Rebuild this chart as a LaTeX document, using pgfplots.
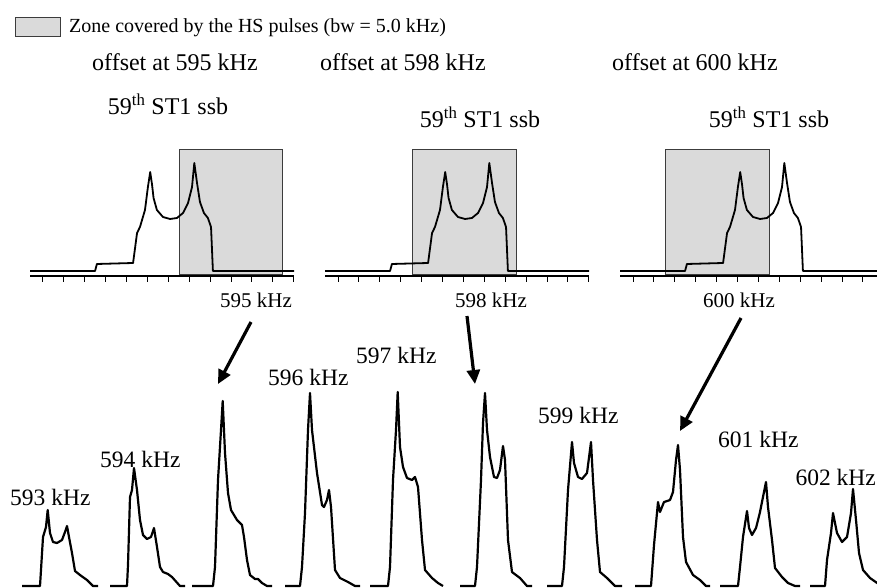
\documentclass[border=0pt]{standalone}
\usepackage{fontspec}
\setmainfont{Liberation Serif}
\usepackage{pgfplots}
\pgfplotsset{compat=1.18}
\usepackage{pgfplotstable}
\usetikzlibrary{arrows.meta}

\definecolor{zonefill}{HTML}{DADADA}
\definecolor{zoneedge}{HTML}{3C3C3C}

% 59th ST1 spinning sideband, simulated line shape (f in kHz from the first tick, h = intensity)
\pgfplotstableread{
f      h
-0.62  5
2.49   5
2.58   12
4.31   13
4.50   43
4.64   49
4.88   66
5.02   89
5.13   104
5.22   91
5.29   78
5.45   66
5.74   59
6.08   57
6.41   58
6.70   63
6.94   73
7.13   89
7.24   113
7.37   93
7.51   74
7.70   63
7.89   58
8.04   49
8.13   5
12.01  5
}\topspec

\pgfplotsset{
  toppanel/.style={
    scale only axis, width=264pt, height=130pt,
    xmin=-0.622, xmax=12.01, ymin=0, ymax=130,
    axis x line*=bottom, axis y line=none, ytick=\empty,
    xtick={0,...,12}, xticklabels={},
    tick align=outside, major tick length=6pt,
    x axis line style={line width=1.4pt, black},
    tick style={line width=1pt, black},
    anchor=south west, clip=false,
  },
  spec/.style={black, line width=2.2pt, line join=round, mark=none},
  simspec/.style={black, line width=1.8pt, line join=round, mark=none},
}

\newcommand\lbl{\fontsize{23.5}{26}\selectfont}
\newcommand\ttl{\fontsize{24}{28}\selectfont}
\newcommand\sml{\fontsize{21}{24}\selectfont}

\begin{document}
\begin{tikzpicture}

% ---------- experimental spectra at each offset ----------
\begin{axis}[at={(0pt,0pt)}, anchor=south west, scale only axis,
  width=877pt, height=588pt, xmin=0, xmax=877, ymin=0, ymax=588,
  y dir=reverse, axis lines=none, clip=false]

% 593 kHz
\addplot[spec] coordinates {(22,586) (40,586) (41,570) (43,537) (46,527) (47.7,510) (50,533) (53,542) (57,543) (62,540) (65,532) (67,526) (69,537) (72,553) (75,571) (80,575) (87,580) (93,586) (98,586)};
% 594 kHz
\addplot[spec] coordinates {(110,586) (127,586) (128,565) (130,497) (132,490) (134,468) (137,490) (140,520) (143,535) (147,539) (151,537) (154,528) (157,547) (160,567) (163,572) (168,574) (172,577) (180,586) (185,586)};
% 595 kHz
\addplot[spec] coordinates {(192,586) (213,586) (215,567) (218,480) (221,430) (222.7,401) (225,453) (228,493) (231,510) (237,520) (242,525) (244,537) (247,560) (250,575) (255,579) (258,579) (262,583) (267,586) (272,586)};
% 596 kHz
\addplot[spec] coordinates {(285,586) (300,586) (302,567) (305,513) (308,430) (310,393) (312,430) (317,473) (322,505) (324,507) (327,500) (329,490) (331,507) (335,570) (340,578) (348,582) (355,586) (360,586)};
% 597 kHz
\addplot[spec] coordinates {(370,586) (388,586) (390,567) (393,480) (396,430) (397.7,392) (400,447) (403,467) (407,478) (412,480) (415,477) (418,487) (422,540) (425,570) (432,578) (438,583) (443,586)};
% 598 kHz
\addplot[spec] coordinates {(460,586) (475,586) (477,567) (481,480) (483,423) (485,393) (487,430) (490,457) (494,477) (497,478) (500,470) (503,446) (505,460) (508,540) (512,572) (520,578) (527,586) (532,586)};
% 599 kHz
\addplot[spec] coordinates {(547,586) (562,586) (564,567) (568,490) (572,442) (574,463) (578,477) (582,479) (587,473) (591,442) (593,480) (597,540) (600,572) (607,578) (615,586) (622,586)};
% 600 kHz
\addplot[spec] coordinates {(635,586) (651,586) (654,545) (658,502) (660,512) (664,502) (670,500) (673,492) (676,460) (678,445) (680,470) (683,537) (686,562) (693,575) (700,580) (706,586) (710,586)};
% 601 kHz
\addplot[spec] coordinates {(720,586) (738,586) (740,567) (743,537) (747,511) (749,528) (752,535) (756,528) (760,512) (766,482) (768,507) (772,540) (775,568) (782,577) (788,583) (795,586) (800,586)};
% 602 kHz
\addplot[spec] coordinates {(810,586) (825,586) (827,560) (831,533) (833,513) (837,533) (842,542) (847,537) (851,513) (853,489) (856,520) (859,553) (863,570) (870,578) (880,585)};

% offset labels over the spectra
\node[anchor=base west, inner sep=0pt, font=\lbl] at (axis cs:10,505) {593 kHz};
\node[anchor=base west, inner sep=0pt, font=\lbl] at (axis cs:100,467) {594 kHz};
\node[anchor=base west, inner sep=0pt, font=\lbl] at (axis cs:268,385) {596 kHz};
\node[anchor=base west, inner sep=0pt, font=\lbl] at (axis cs:356,363) {597 kHz};
\node[anchor=base west, inner sep=0pt, font=\lbl] at (axis cs:538,423) {599 kHz};
\node[anchor=base west, inner sep=0pt, font=\lbl] at (axis cs:718,447) {601 kHz};
\node[anchor=base east, inner sep=0pt, font=\lbl] at (axis cs:876,485) {602 kHz};

% offsets of the simulated panels
\node[anchor=base west, inner sep=0pt, font=\sml] at (axis cs:220,307) {595 kHz};
\node[anchor=base west, inner sep=0pt, font=\sml] at (axis cs:455,307) {598 kHz};
\node[anchor=base west, inner sep=0pt, font=\sml] at (axis cs:703,307) {600 kHz};

% arrows linking simulations to measurements
\draw[line width=3.2pt, -{Triangle[length=14pt,width=13pt]}] (axis cs:251,322) -- (axis cs:218,384);
\draw[line width=3.2pt, -{Triangle[length=14pt,width=13pt]}] (axis cs:467,316) -- (axis cs:475,384);
\draw[line width=3.2pt, -{Triangle[length=14pt,width=13pt]}] (axis cs:741,318) -- (axis cs:680,431);

% legend and headings
\draw[fill=zonefill, draw=zoneedge, line width=0.9pt] (axis cs:15,17) rectangle (axis cs:60,36);
\node[anchor=base west, inner sep=0pt, font=\fontsize{20}{24}\selectfont] at (axis cs:69,33) {Zone covered by the HS pulses (bw = 5.0 kHz)};
\node[anchor=base west, inner sep=0pt, font=\ttl] at (axis cs:92,71) {offset at 595 kHz};
\node[anchor=base west, inner sep=0pt, font=\ttl] at (axis cs:320,71) {offset at 598 kHz};
\node[anchor=base west, inner sep=0pt, font=\ttl] at (axis cs:612,71) {offset at 600 kHz};
\node[anchor=base, inner sep=0pt, font=\ttl] at (axis cs:168,115) {59\textsuperscript{th} ST1 ssb};
\node[anchor=base, inner sep=0pt, font=\ttl] at (axis cs:480,128) {59\textsuperscript{th} ST1 ssb};
\node[anchor=base, inner sep=0pt, font=\ttl] at (axis cs:769,128) {59\textsuperscript{th} ST1 ssb};
\end{axis}

% ---------- simulated sideband, offset 595 kHz ----------
\begin{axis}[toppanel, at={(30pt,312pt)}]
\draw[fill=zonefill, draw=zoneedge, line width=0.9pt] (axis cs:6.51,2) rectangle (axis cs:11.48,127);
\addplot[simspec] table[x=f, y=h] {\topspec};
\end{axis}

% ---------- simulated sideband, offset 598 kHz ----------
\begin{axis}[toppanel, at={(325pt,312pt)}]
\draw[fill=zonefill, draw=zoneedge, line width=0.9pt] (axis cs:3.54,2) rectangle (axis cs:8.52,127);
\addplot[simspec] table[x=f, y=h] {\topspec};
\end{axis}

% ---------- simulated sideband, offset 600 kHz ----------
\begin{axis}[toppanel, at={(620pt,312pt)}]
\draw[fill=zonefill, draw=zoneedge, line width=0.9pt] (axis cs:1.53,2) rectangle (axis cs:6.51,127);
\addplot[simspec] table[x=f, y=h] {\topspec};
\end{axis}

\pgfresetboundingbox
\path[use as bounding box] (0pt,0pt) rectangle (877pt,588pt);
\end{tikzpicture}
\end{document}
